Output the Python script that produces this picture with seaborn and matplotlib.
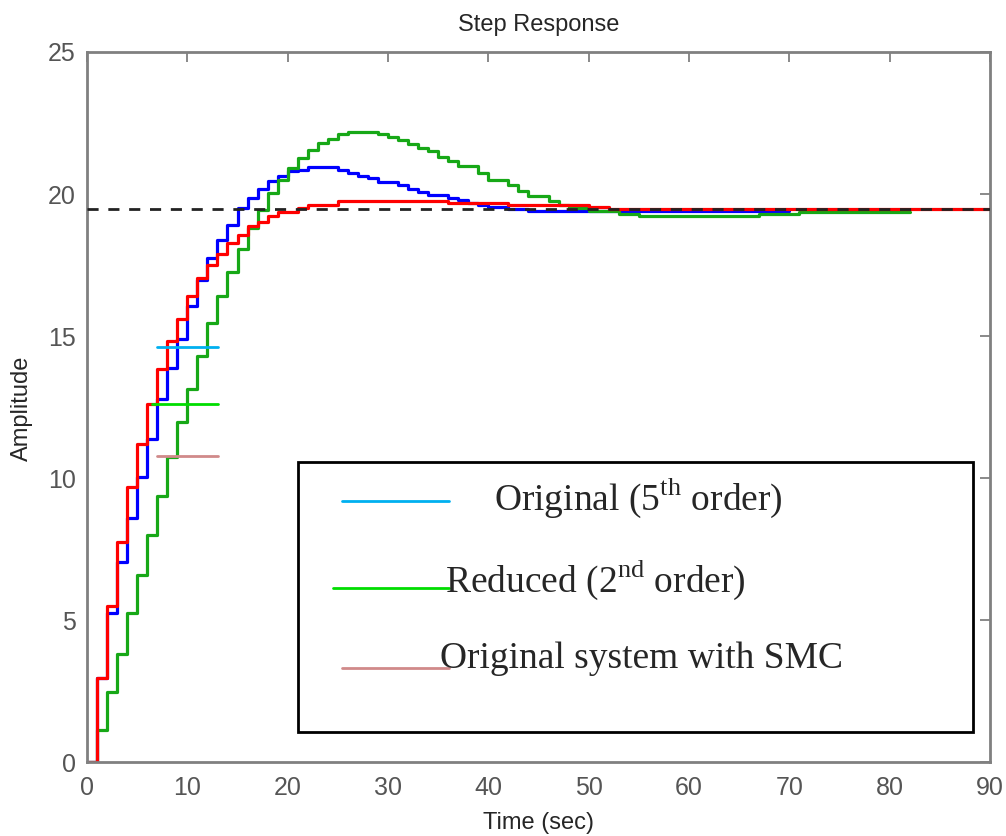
import pandas as pd
import matplotlib.pyplot as plt
import seaborn as sns
from matplotlib.patches import Rectangle

# step response levels: change times (sec) and the level held from there on
blue_t = [0, 1, 2, 3, 4, 5, 6, 7, 8, 9, 10, 11, 12, 13, 14, 15, 16, 17, 18, 19, 20, 21, 22,
          25, 26, 27, 28, 29, 31, 32, 33, 34, 36, 37, 38, 39, 40, 42, 44]
blue_v = [0, 2.96, 5.26, 7.03, 8.6, 10.02, 11.39, 12.79, 13.87, 14.9, 16.04, 16.97, 17.74, 18.39,
          18.9, 19.5, 19.86, 20.18, 20.47, 20.65, 20.8, 20.86, 20.94,
          20.86, 20.74, 20.65, 20.56, 20.44, 20.33, 20.19, 20.07, 19.97, 19.86, 19.78, 19.7,
          19.6, 19.53, 19.47, 19.39]
blue_end = 70

green_t = [0, 1, 2, 3, 4, 5, 6, 7, 8, 9, 10, 11, 12, 13, 14, 15, 16, 17, 18, 19, 20, 21, 22,
           23, 24, 25, 26, 29, 30, 31, 32, 33, 34, 35, 36, 37, 39, 40, 42, 43, 44, 46, 47, 48,
           50, 53, 55, 67, 71]
green_v = [0, 1.13, 2.48, 3.8, 5.26, 6.58, 7.98, 9.35, 10.73, 11.98, 13.15, 14.3, 15.46, 16.4,
           17.27, 18.08, 18.82, 19.45, 20.03, 20.5, 20.92, 21.27, 21.56,
           21.8, 21.95, 22.1, 22.19, 22.1, 22.0, 21.9, 21.77, 21.63, 21.5, 21.3, 21.15, 20.97,
           20.74, 20.5, 20.33, 20.12, 19.92, 19.74, 19.62, 19.5,
           19.39, 19.3, 19.22, 19.3, 19.37]
green_end = 82

red_t = [0, 1, 2, 3, 4, 5, 6, 7, 8, 9, 10, 11, 12, 13, 14, 15, 16, 17, 18, 19, 21, 22, 25,
         36, 42, 50, 52]
red_v = [0, 2.96, 5.49, 7.73, 9.67, 11.2, 12.6, 13.85, 14.83, 15.6, 16.4, 17.03, 17.5, 17.9,
         18.27, 18.56, 18.86, 19.03, 19.22, 19.37, 19.5, 19.6, 19.74,
         19.68, 19.6, 19.54, 19.48]
red_end = 90

final_value = 19.47

# stray legend samples left on the plot (level, start, stop)
stray_levels = [14.6, 12.61, 10.79]
stray_start = [6.95, 6.45, 6.95]
stray_stop = [13.1, 13.1, 13.05]

series_names = ['Original (5th order)', 'Reduced (2nd order)', 'Original system with SMC']
line_colors = ['#0000FF', '#17A817', '#FF0000']
legend_colors = ['#00B0F0', '#00DD00', '#D08A8A']
legend_labels = [r'Original (5$^{\mathrm{th}}$ order)',
                 r'Reduced (2$^{\mathrm{nd}}$ order)',
                 'Original system with SMC']


def stairs(name, times, levels, t_end):
    return pd.DataFrame({'Time': list(times) + [t_end],
                         'Amplitude': list(levels) + [levels[-1]],
                         'series': name})


df = pd.concat([stairs(series_names[0], blue_t, blue_v, blue_end),
                stairs(series_names[1], green_t, green_v, green_end),
                stairs(series_names[2], red_t, red_v, red_end)], ignore_index=True)

sns.set_style('white')
plt.rcParams['font.family'] = ['Liberation Sans', 'DejaVu Sans']
plt.rcParams['mathtext.fontset'] = 'custom'
plt.rcParams['mathtext.rm'] = 'Liberation Serif'

fig = plt.figure(figsize=(10.06, 8.36), dpi=100)
ax = fig.add_axes([0.0865, 0.0885, 0.8976, 0.8493])

sns.lineplot(data=df, x='Time', y='Amplitude', hue='series', hue_order=series_names,
             palette=line_colors, drawstyle='steps-post', linewidth=2.3,
             estimator=None, sort=False, legend=False, ax=ax)

ax.axhline(final_value, color='#222222', linestyle=(0, (4, 3.5)), linewidth=2, zorder=5)

for lvl, a, b, c in zip(stray_levels, stray_start, stray_stop, legend_colors):
    ax.plot([a, b], [lvl, lvl], color=c, linewidth=2, zorder=6)

ax.set_xlim(0, 90)
ax.set_ylim(0, 25)
ax.set_xticks(range(0, 91, 10))
ax.set_yticks(range(0, 26, 5))
ax.set_xlabel('')
ax.set_ylabel('')
ax.tick_params(direction='in', length=7, width=1.3, color='#808080', top=True, right=True,
               labelsize=18, labelcolor='#555555')
ax.tick_params(axis='x', pad=10)
ax.tick_params(axis='y', pad=8)
for sp in ax.spines.values():
    sp.set_color('#808080')
    sp.set_linewidth(2)

fig.text(0.535, 0.970, 'Step Response', ha='center', va='center', fontsize=17)
fig.text(0.535, 0.002, 'Time (sec)', ha='center', va='bottom', fontsize=17)
fig.text(0.022, 0.512, 'Amplitude', ha='center', va='center', rotation=90, fontsize=17)

# hand-drawn legend box
ax.add_patch(Rectangle((0.2337, 0.0423), 0.7475, 0.3802, transform=ax.transAxes,
                       facecolor='white', edgecolor='black', linewidth=2, zorder=8))
legend_line_x = [(0.2824, 0.4009), (0.2724, 0.4009), (0.2824, 0.4009)]
legend_line_y = [0.3676, 0.2451, 0.1324]
legend_text_x = [0.4507, 0.3965, 0.3909]
legend_text_y = [0.3549, 0.2394, 0.1324]
for (x0, x1), ly, tx, ty, c, lab in zip(legend_line_x, legend_line_y, legend_text_x,
                                        legend_text_y, legend_colors, legend_labels):
    ax.plot([x0, x1], [ly, ly], color=c, linewidth=2, transform=ax.transAxes, zorder=9)
    ax.text(tx, ty, lab, transform=ax.transAxes, ha='left', va='baseline',
            fontsize=27, family='Liberation Serif', zorder=10)

fig.savefig('out.png', dpi=100)
